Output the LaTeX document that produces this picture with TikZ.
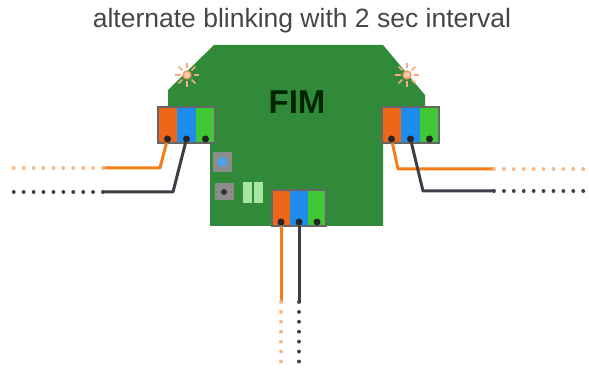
\documentclass[tikz,border=0pt]{standalone}
\usepackage{fontspec}
\setmainfont{Liberation Sans}
\usetikzlibrary{calc}
\definecolor{board}{RGB}{48,138,58}
\definecolor{termor}{RGB}{238,102,24}
\definecolor{termbl}{RGB}{30,140,235}
\definecolor{termgr}{RGB}{62,200,52}
\definecolor{wireor}{RGB}{245,125,25}
\definecolor{wiredk}{RGB}{62,62,72}
\definecolor{titlegray}{RGB}{70,70,70}
% terminal block: #1 name, #2 left x, #3 top y, #4 width of one slot
\newcommand{\tblock}[4]{%
  \fill[termor] (#2,#3) rectangle ++(#4,36);
  \fill[termbl] ($(#2,#3)+(#4,0)$) rectangle ++(#4,36);
  \fill[termgr] ($(#2,#3)+(2*#4,0)$) rectangle ++(#4,36);
  \draw[black!60,line width=1.2] (#2,#3) rectangle ++(3*#4,36);
  \node[pindot] (#1o) at ($(#2,#3)+(0.5*#4,32)$) {};
  \node[pindot] (#1b) at ($(#2,#3)+(1.5*#4,32)$) {};
  \node[pindot] (#1g) at ($(#2,#3)+(2.5*#4,32)$) {};
}
% blinking lamp
\newcommand{\lamp}[2]{%
  \fill[termor!35,draw=termor!70,line width=1.3] (#2) circle (4);
  \foreach \a in {0,45,...,315}
    \draw[termor!55,line width=1.6] ($(#2)+(\a:6.5)$) -- ($(#2)+(\a:12)$);
  \coordinate (#1) at (#2);
}
\begin{document}
\begin{tikzpicture}[x=1pt,y=-1pt,
    pindot/.style={circle,fill=black!85,inner sep=0pt,minimum size=7pt},
    wire/.style={line width=3,line join=round},
    tail/.style={line width=3.8,line cap=round,dash pattern=on 0.01 off 9.9}]
  \useasboundingbox (0,0) rectangle (589,371);
  \node[text=titlegray,font=\fontsize{26.5}{30}\selectfont] (title) at (302,21)
    {alternate blinking with 2 sec interval};
  % board
  \fill[board] (214,45) -- (383,45) -- (425,95) -- (425,108) -- (383,108)
    -- (383,226) -- (210,226) -- (210,108) -- (168,108) -- (168,90) -- cycle;
  \node[text=black!85!green,font=\bfseries\fontsize{33}{36}\selectfont] (fim) at (297,102) {FIM};
  \lamp{lampL}{187,75}
  \lamp{lampR}{407,75}
  % parts on the board
  \fill[black!45] (213,152) rectangle (232,172);
  \fill[termbl!80] (222.5,162) circle (5);
  \fill[black!45] (215,183) rectangle (234,200);
  \fill[black!80] (224,192) circle (3);
  \fill[termgr!45!white] (243,182) rectangle (252,203);
  \fill[termgr!45!white] (254,182) rectangle (263,203);
  % terminal blocks
  \tblock{L}{158}{107}{19}
  \tblock{R}{382}{107}{19}
  \tblock{B}{272}{190}{18}
  % left wires
  \coordinate (Lo1) at (160,168);
  \coordinate (Lo2) at (103,168);
  \coordinate (Lo3) at (12,168);
  \coordinate (Lb1) at (173,192);
  \coordinate (Lb2) at (103,192);
  \coordinate (Lb3) at (12,192);
  \draw[wire,wireor] (Lo) -- (Lo1) -- (Lo2);
  \draw[tail,wireor!55] (Lo2) -- (Lo3);
  \draw[wire,wiredk] (Lb) -- (Lb1) -- (Lb2);
  \draw[tail,wiredk] (Lb2) -- (Lb3);
  % right wires
  \coordinate (Ro1) at (398,169);
  \coordinate (Ro2) at (494,169);
  \coordinate (Ro3) at (585,169);
  \coordinate (Rb1) at (423,191);
  \coordinate (Rb2) at (494,191);
  \coordinate (Rb3) at (585,191);
  \draw[wire,wireor] (Ro) -- (Ro1) -- (Ro2);
  \draw[tail,wireor!55] (Ro2) -- (Ro3);
  \draw[wire,wiredk] (Rb) -- (Rb1) -- (Rb2);
  \draw[tail,wiredk] (Rb2) -- (Rb3);
  % bottom wires
  \coordinate (Bo1) at (281,302);
  \coordinate (Bo2) at (281,366);
  \coordinate (Bb1) at (299,302);
  \coordinate (Bb2) at (299,371);
  \draw[wire,wireor] (Bo) -- (Bo1);
  \draw[tail,wireor!55] (Bo1) -- (Bo2);
  \draw[wire,wiredk] (Bb) -- (Bb1);
  \draw[tail,wiredk] (Bb1) -- (Bb2);
\end{tikzpicture}
\end{document}
